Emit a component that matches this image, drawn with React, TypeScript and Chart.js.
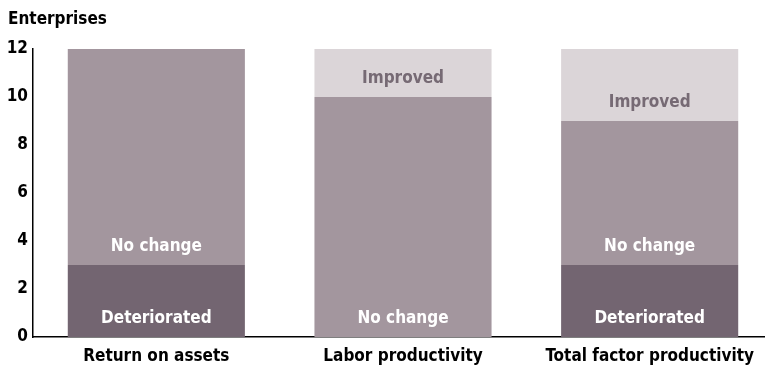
import React, { useEffect, useRef } from "react";
import { Chart, registerables } from "chart.js";

Chart.register(...registerables);

const categories = ["Return on assets", "Labor productivity", "Total factor productivity"];
const deteriorated = [3, 0, 3];
const noChange = [9, 10, 6];
const improved = [0, 2, 3];
const yTicks = [0, 2, 4, 6, 8, 10, 12];
const yTitle = "Enterprises";

const FONT = "'Liberation Sans Narrow', 'DejaVu Sans Condensed', 'Arial Narrow', sans-serif";

const segLabels = {
  id: "segLabels",
  afterDatasetsDraw(chart: any) {
    const ctx = chart.ctx;
    ctx.save();
    ctx.font = `bold 17px ${FONT}`;
    ctx.textAlign = "center";
    ctx.textBaseline = "middle";
    chart.data.datasets.forEach((ds: any, di: number) => {
      const meta = chart.getDatasetMeta(di);
      meta.data.forEach((el: any, i: number) => {
        const v = ds.data[i];
        if (!v) return;
        ctx.fillStyle = ds.labelColor;
        ctx.fillText(ds.label, el.x, el.base - 18);
      });
    });
    ctx.fillStyle = "#000";
    ctx.textAlign = "left";
    ctx.fillText(yTitle, 8, 20);
    ctx.restore();
  },
};

export default function App() {
  const ref = useRef<HTMLCanvasElement>(null);
  useEffect(() => {
    if (!ref.current) return;
    const chart = new Chart(ref.current, {
      type: "bar",
      data: {
        labels: categories,
        datasets: [
          { label: "Deteriorated", data: deteriorated, backgroundColor: "#736571", labelColor: "#ffffff" } as any,
          { label: "No change", data: noChange, backgroundColor: "#a3969e", labelColor: "#ffffff" } as any,
          { label: "Improved", data: improved, backgroundColor: "#dbd5d8", labelColor: "#766a74" } as any,
        ],
      },
      options: {
        responsive: false,
        animation: false,
        layout: { padding: { left: 0, right: 0, top: 49, bottom: 0 } },
        datasets: { bar: { barPercentage: 0.718, categoryPercentage: 1 } },
        plugins: {
          legend: { display: false },
          tooltip: { enabled: false },
          title: { display: false },
        },
        scales: {
          x: {
            stacked: true,
            grid: { display: false, drawTicks: false },
            border: { display: true, color: "#000", width: 1.5 },
            ticks: { color: "#000", font: { family: FONT, size: 17, weight: "bold" }, padding: 9 },
            afterFit: (s: any) => { s.height = 29; },
          },
          y: {
            stacked: true,
            min: 0,
            max: 12,
            afterBuildTicks: (s: any) => { s.ticks = yTicks.map((v) => ({ value: v })); },
            grid: { display: false, drawTicks: false },
            border: { display: true, color: "#000", width: 1.5 },
            ticks: { color: "#000", font: { family: FONT, size: 17, weight: "bold" }, padding: 5 },
            afterFit: (s: any) => { s.width = 33; },
          },
        },
      },
      plugins: [segLabels],
    });
    return () => chart.destroy();
  }, []);
  return (
    <div style={{ position: "fixed", left: 0, top: 0, width: 765, height: 366, overflow: "hidden", background: "#fff" }}>
      <canvas ref={ref} width={773} height={366} style={{ display: "block" }} />
    </div>
  );
}
